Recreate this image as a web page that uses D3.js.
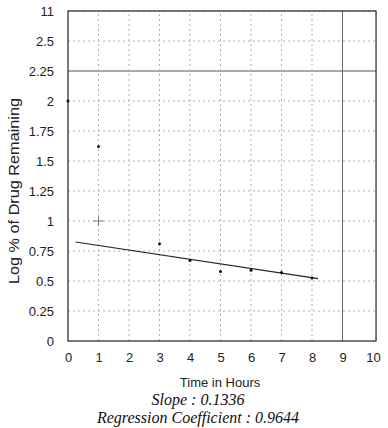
<!DOCTYPE html>
<html>
<head>
<meta charset="utf-8">
<script src="https://cdn.jsdelivr.net/npm/d3@7"></script>
<style>
  body { margin: 0; background: #fff; }
  svg { display: block; }
</style>
</head>
<body>
<div id="chart"></div>
<script>
// data
var pointTimes = [0, 1, 3, 4, 5, 6, 7, 8];
var pointLogs = [2.0, 1.62, 0.81, 0.67, 0.58, 0.59, 0.57, 0.525];
var crossTimes = [1];
var crossLogs = [1.0];
var fitTimes = [0.25, 8.2];
var fitLogs = [0.825, 0.52];
var xTicks = [0, 1, 2, 3, 4, 5, 6, 7, 8, 9, 10];
var yTicks = [0, 0.25, 0.5, 0.75, 1, 1.25, 1.5, 1.75, 2, 2.25, 2.5, 2.75];
var yTickLabels = ["0", "0.25", "0.5", "0.75", "1", "1.25", "1.5", "1.75", "2", "2.25", "2.5", "11"];

var width = 388, height = 428;

var x = d3.scaleLinear().domain([0, 10]).range([68, 373]);
var y = d3.scaleLinear().domain([0, 2.75]).range([341, 11]);

var svg = d3.select("#chart").append("svg")
    .attr("width", width)
    .attr("height", height)
    .style("font-family", "'Liberation Sans', Arial, sans-serif");

// grid lines
svg.selectAll(".hgrid")
    .data(yTicks.slice(1))
    .enter().append("line")
    .attr("x1", x(0)).attr("x2", x(10.1))
    .attr("y1", function(d) { return y(d); })
    .attr("y2", function(d) { return y(d); })
    .attr("stroke", function(d) { return d == 2.25 ? "#555" : "#b0b0b0"; })
    .attr("stroke-width", 1)
    .attr("stroke-dasharray", function(d) { return d == 2.25 ? null : "2,3"; });

svg.selectAll(".vgrid")
    .data(xTicks.slice(1, 10))
    .enter().append("line")
    .attr("x1", function(d) { return x(d); })
    .attr("x2", function(d) { return x(d); })
    .attr("y1", y(0)).attr("y2", y(2.75))
    .attr("stroke", function(d) { return d == 9 ? "#666" : "#b0b0b0"; })
    .attr("stroke-width", 1)
    .attr("stroke-dasharray", function(d) { return d == 9 ? null : "2,3"; });

// frame
svg.append("rect")
    .attr("x", x(0)).attr("y", y(2.75))
    .attr("width", x(10.1) - x(0))
    .attr("height", y(0) - y(2.75))
    .attr("fill", "none")
    .attr("stroke", "#333")
    .attr("stroke-width", 1.3);

// axes labels
var xAxis = d3.axisBottom(x).tickValues(xTicks).tickSize(0).tickPadding(12).tickFormat(d3.format("d"));
svg.append("g")
    .attr("transform", "translate(0," + y(0) + ")")
    .call(xAxis)
    .call(function(g) { g.select(".domain").remove(); })
    .selectAll("text")
    .attr("font-size", 13)
    .attr("fill", "#222")
    .style("font-family", "'Liberation Sans', Arial, sans-serif");

var yAxis = d3.axisLeft(y).tickValues(yTicks).tickSize(0).tickPadding(14)
    .tickFormat(function(d, i) { return yTickLabels[i]; });
svg.append("g")
    .attr("transform", "translate(" + x(0) + ",0)")
    .call(yAxis)
    .call(function(g) { g.select(".domain").remove(); })
    .selectAll("text")
    .attr("font-size", 13)
    .attr("fill", "#222")
    .style("font-family", "'Liberation Sans', Arial, sans-serif");

// regression line
var line = d3.line()
    .x(function(d) { return x(d[0]); })
    .y(function(d) { return y(d[1]); });

svg.append("path")
    .datum(d3.zip(fitTimes, fitLogs))
    .attr("d", line)
    .attr("fill", "none")
    .attr("stroke", "#222")
    .attr("stroke-width", 1.2);

// data points
svg.selectAll(".pt")
    .data(d3.zip(pointTimes, pointLogs))
    .enter().append("circle")
    .attr("cx", function(d) { return x(d[0]); })
    .attr("cy", function(d) { return y(d[1]); })
    .attr("r", 1.5)
    .attr("fill", "#111");

var crosses = svg.selectAll(".cross")
    .data(d3.zip(crossTimes, crossLogs))
    .enter().append("g")
    .attr("transform", function(d) { return "translate(" + x(d[0]) + "," + y(d[1]) + ")"; });
crosses.append("line").attr("x1", -5).attr("x2", 5).attr("stroke", "#777");
crosses.append("line").attr("y1", -5).attr("y2", 5).attr("stroke", "#777");

// titles
svg.append("text")
    .attr("transform", "translate(19,191) rotate(-90)")
    .attr("text-anchor", "middle")
    .attr("font-size", 14)
    .attr("textLength", 186)
    .attr("lengthAdjust", "spacingAndGlyphs")
    .attr("fill", "#222")
    .text("Log % of Drug Remaining");

svg.append("text")
    .attr("x", 220).attr("y", 387)
    .attr("text-anchor", "middle")
    .attr("font-size", 13)
    .attr("fill", "#222")
    .text("Time in Hours");

svg.append("text")
    .attr("x", 198).attr("y", 405)
    .attr("text-anchor", "middle")
    .attr("font-size", 16)
    .attr("font-style", "italic")
    .attr("fill", "#111")
    .style("font-family", "'Liberation Serif', 'Times New Roman', serif")
    .text("Slope : 0.1336");

svg.append("text")
    .attr("x", 198).attr("y", 423)
    .attr("text-anchor", "middle")
    .attr("font-size", 16)
    .attr("font-style", "italic")
    .attr("fill", "#111")
    .style("font-family", "'Liberation Serif', 'Times New Roman', serif")
    .text("Regression Coefficient : 0.9644");
</script>
</body>
</html>
